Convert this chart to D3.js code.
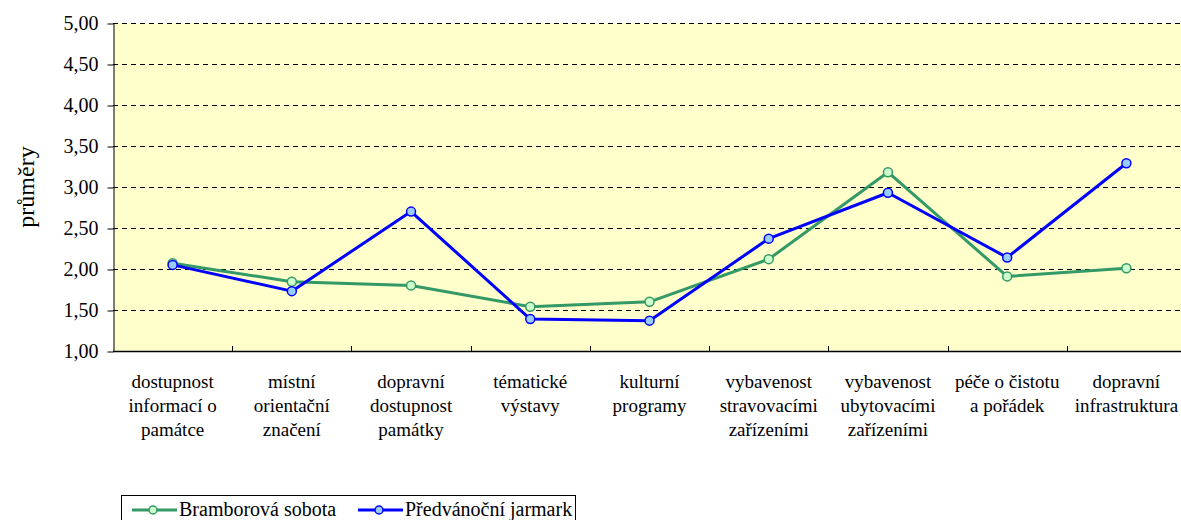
<!DOCTYPE html>
<html>
<head>
<meta charset="utf-8">
<script src="https://d3js.org/d3.v7.min.js"></script>
<style>
  body { margin: 0; background: #fff; }
  svg text { font-family: "Liberation Serif", "Times New Roman", Tinos, "DejaVu Serif", serif; }
</style>
</head>
<body>
<div id="chart"></div>
<script>
// categories (lines of each label)
var categories = [
  ["dostupnost", "informací o", "památce"],
  ["místní", "orientační", "značení"],
  ["dopravní", "dostupnost", "památky"],
  ["tématické", "výstavy"],
  ["kulturní", "programy"],
  ["vybavenost", "stravovacími", "zařízeními"],
  ["vybavenost", "ubytovacími", "zařízeními"],
  ["péče o čistotu", "a pořádek"],
  ["dopravní", "infrastruktura"]
];
var bramborova = [2.07, 1.845, 1.80, 1.54, 1.60, 2.12, 3.18, 1.91, 2.01];
var predvanocni = [2.05, 1.73, 2.70, 1.39, 1.37, 2.37, 2.93, 2.14, 3.29];
var yTicks = [1.0, 1.5, 2.0, 2.5, 3.0, 3.5, 4.0, 4.5, 5.0];
var seriesNames = ["Bramborová sobota", "Předvánoční jarmark"];

var width = 1181, height = 520;
var plotLeft = 113, plotTop = 23, plotRight = 1186, plotBottom = 351;

var svg = d3.select("#chart").append("svg")
    .attr("width", width)
    .attr("height", height);

var x = d3.scaleBand()
    .domain(d3.range(categories.length))
    .range([plotLeft, plotRight]);

var y = d3.scaleLinear()
    .domain([1, 5])
    .range([plotBottom, plotTop]);

// plot background
svg.append("rect")
    .attr("x", plotLeft).attr("y", plotTop)
    .attr("width", plotRight - plotLeft).attr("height", plotBottom - plotTop)
    .attr("fill", "#FFFFCC");

// gridlines
svg.append("g")
    .selectAll("line")
    .data(yTicks.filter(function(d) { return d > 1; }))
    .enter().append("line")
    .attr("x1", plotLeft).attr("x2", plotRight)
    .attr("y1", function(d) { return Math.round(y(d)) + 0.5; })
    .attr("y2", function(d) { return Math.round(y(d)) + 0.5; })
    .attr("stroke", "#000")
    .attr("stroke-width", 1)
    .attr("stroke-dasharray", "5,4");

// y axis
var fmt = function(d) { return d3.format(".2f")(d).replace(".", ","); };
var yAxis = svg.append("g")
    .attr("transform", "translate(" + (plotLeft + 0.5) + ",0.5)")
    .call(d3.axisLeft(y).tickValues(yTicks).tickFormat(fmt).tickSizeInner(6).tickSizeOuter(0).tickPadding(9));
yAxis.attr("font-family", null);
yAxis.selectAll("text").style("font-size", "20px").attr("fill", "#000");
yAxis.selectAll("line,path").attr("stroke", "#000");

// x axis line and inner ticks
svg.append("line")
    .attr("x1", plotLeft).attr("x2", plotRight)
    .attr("y1", plotBottom + 0.5).attr("y2", plotBottom + 0.5)
    .attr("stroke", "#000").attr("stroke-width", 1.5);
svg.append("g")
    .selectAll("line")
    .data(d3.range(1, categories.length))
    .enter().append("line")
    .attr("x1", function(d) { return Math.round(x(d)) + 0.5; })
    .attr("x2", function(d) { return Math.round(x(d)) + 0.5; })
    .attr("y1", plotBottom).attr("y2", plotBottom - 5)
    .attr("stroke", "#000");

// category labels
var lab = svg.append("g").selectAll("text")
    .data(categories)
    .enter().append("text")
    .attr("text-anchor", "middle")
    .attr("x", function(d, i) { return x(i) + x.bandwidth() / 2; })
    .attr("y", 388)
    .style("font-size", "19px");
lab.selectAll("tspan")
    .data(function(d) { return d; })
    .enter().append("tspan")
    .attr("x", function() { return d3.select(this.parentNode).attr("x"); })
    .attr("dy", function(d, i) { return i === 0 ? 0 : 24; })
    .text(function(d) { return d; });

// y title
svg.append("text")
    .attr("transform", "translate(34," + ((plotTop + plotBottom) / 2) + ") rotate(-90)")
    .attr("text-anchor", "middle")
    .style("font-size", "24px")
    .text("průměry");

// series
var series = [
  { name: seriesNames[0], values: bramborova, stroke: "#339966", fill: "#CCFFCC" },
  { name: seriesNames[1], values: predvanocni, stroke: "#0000FF", fill: "#99CCFF" }
];
var line = d3.line()
    .x(function(d, i) { return x(i) + x.bandwidth() / 2; })
    .y(function(d) { return y(d); });

series.forEach(function(s) {
  svg.append("path")
      .datum(s.values)
      .attr("fill", "none")
      .attr("stroke", s.stroke)
      .attr("stroke-width", 3)
      .attr("stroke-linejoin", "round")
      .attr("d", line);
  svg.append("g").selectAll("circle")
      .data(s.values)
      .enter().append("circle")
      .attr("cx", function(d, i) { return x(i) + x.bandwidth() / 2; })
      .attr("cy", function(d) { return y(d); })
      .attr("r", 4.5)
      .attr("fill", s.fill)
      .attr("stroke", s.stroke)
      .attr("stroke-width", 1.5);
});

// legend
var lg = svg.append("g");
lg.append("rect")
    .attr("x", 121.5).attr("y", 495.5)
    .attr("width", 454).attr("height", 30)
    .attr("fill", "#fff")
    .attr("stroke", "#000");
var legX = [132, 358];
series.forEach(function(s, i) {
  var g = lg.append("g").attr("transform", "translate(" + legX[i] + ",510)");
  g.append("line")
      .attr("x1", 0).attr("x2", 45)
      .attr("stroke", s.stroke).attr("stroke-width", 3);
  g.append("circle")
      .attr("cx", 21).attr("r", 4)
      .attr("fill", s.fill).attr("stroke", s.stroke).attr("stroke-width", 1.5);
  g.append("text")
      .attr("x", 47).attr("y", 6)
      .style("font-size", "20px")
      .text(s.name);
});
</script>
</body>
</html>
